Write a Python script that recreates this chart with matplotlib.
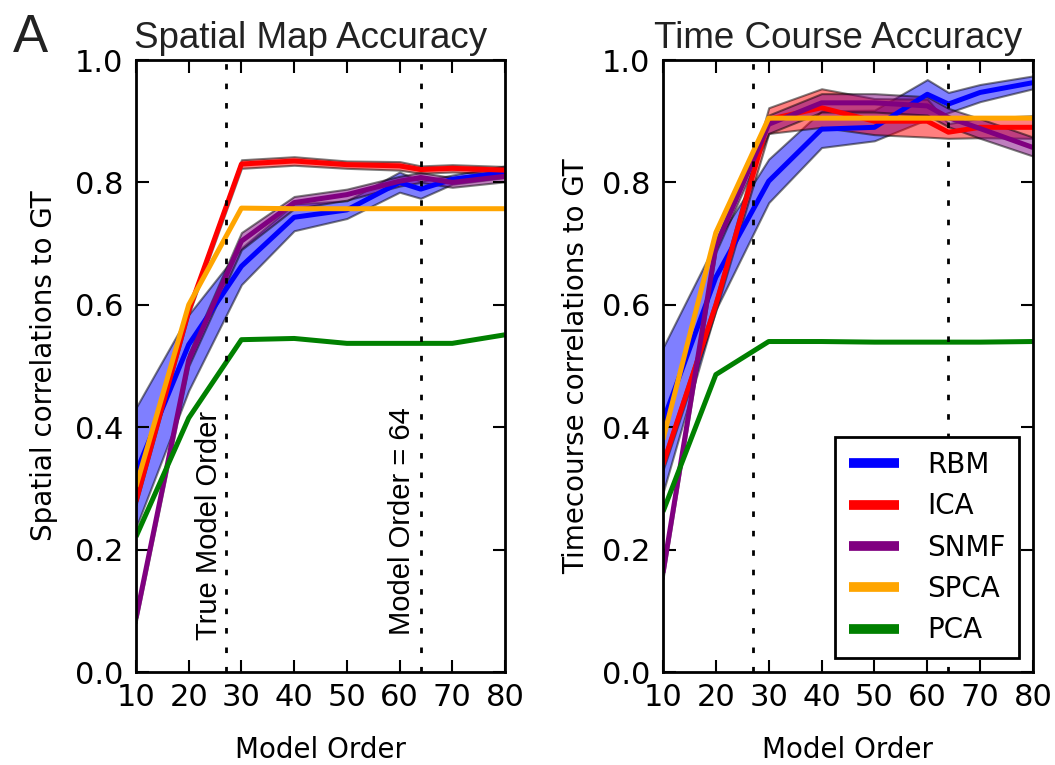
import matplotlib
matplotlib.use("Agg")
import matplotlib.pyplot as plt
import numpy as np

# ---- data ----
model_order = [10, 20, 30, 40, 50, 60, 64, 70, 80]
methods = ["RBM", "ICA", "SNMF", "SPCA", "PCA"]
colors = ["blue", "red", "purple", "orange", "green"]

# Spatial map accuracy (mean, low, high)
sp_rbm = [0.326, 0.535, 0.663, 0.743, 0.755, 0.800, 0.789, 0.805, 0.816]
sp_rbm_lo = [0.236, 0.460, 0.633, 0.721, 0.741, 0.784, 0.774, 0.797, 0.808]
sp_rbm_hi = [0.432, 0.584, 0.693, 0.765, 0.770, 0.817, 0.802, 0.812, 0.827]
sp_ica = [0.279, 0.590, 0.830, 0.835, 0.829, 0.827, 0.821, 0.823, 0.820]
sp_ica_lo = [0.273, 0.584, 0.823, 0.828, 0.823, 0.820, 0.815, 0.817, 0.814]
sp_ica_hi = [0.285, 0.596, 0.837, 0.842, 0.835, 0.834, 0.827, 0.829, 0.826]
sp_snmf = [0.088, 0.510, 0.704, 0.767, 0.780, 0.802, 0.808, 0.800, 0.810]
sp_snmf_lo = [0.080, 0.500, 0.690, 0.757, 0.771, 0.794, 0.800, 0.792, 0.801]
sp_snmf_hi = [0.096, 0.520, 0.718, 0.777, 0.789, 0.810, 0.816, 0.808, 0.819]
sp_spca = [0.303, 0.600, 0.758, 0.757, 0.757, 0.757, 0.757, 0.757, 0.757]
sp_pca = [0.221, 0.415, 0.543, 0.545, 0.537, 0.537, 0.537, 0.537, 0.551]

# Time course accuracy (mean, low, high)
tc_rbm = [0.410, 0.645, 0.802, 0.887, 0.890, 0.944, 0.928, 0.947, 0.963]
tc_rbm_lo = [0.293, 0.592, 0.767, 0.857, 0.868, 0.903, 0.914, 0.932, 0.953]
tc_rbm_hi = [0.530, 0.702, 0.838, 0.917, 0.918, 0.968, 0.947, 0.960, 0.974]
tc_ica = [0.339, 0.600, 0.903, 0.922, 0.900, 0.900, 0.882, 0.890, 0.890]
tc_ica_lo = [0.330, 0.590, 0.880, 0.890, 0.878, 0.874, 0.872, 0.873, 0.872]
tc_ica_hi = [0.348, 0.610, 0.922, 0.953, 0.937, 0.936, 0.896, 0.905, 0.909]
tc_snmf = [0.162, 0.696, 0.895, 0.930, 0.930, 0.925, 0.906, 0.888, 0.857]
tc_snmf_lo = [0.152, 0.686, 0.880, 0.915, 0.915, 0.910, 0.891, 0.872, 0.843]
tc_snmf_hi = [0.172, 0.706, 0.910, 0.945, 0.945, 0.940, 0.921, 0.904, 0.874]
tc_spca = [0.380, 0.718, 0.905, 0.905, 0.905, 0.905, 0.905, 0.905, 0.905]
tc_pca = [0.262, 0.486, 0.540, 0.540, 0.539, 0.539, 0.539, 0.539, 0.540]

true_order = 27
chosen_order = 64

xticks = [10, 20, 30, 40, 50, 60, 70, 80]
yticks = [0.0, 0.2, 0.4, 0.6, 0.8, 1.0]

fig = plt.figure(figsize=(10.55, 7.65), dpi=100)
ax1 = fig.add_axes([136 / 1055, 93 / 765, 369 / 1055, 612 / 765])
ax2 = fig.add_axes([663 / 1055, 93 / 765, 370 / 1055, 612 / 765])

panels = [
    (ax1,
     [(sp_rbm, sp_rbm_lo, sp_rbm_hi), (sp_ica, sp_ica_lo, sp_ica_hi),
      (sp_snmf, sp_snmf_lo, sp_snmf_hi), (sp_spca, None, None), (sp_pca, None, None)],
     "Spatial Map Accuracy", "Spatial correlations to GT"),
    (ax2,
     [(tc_rbm, tc_rbm_lo, tc_rbm_hi), (tc_ica, tc_ica_lo, tc_ica_hi),
      (tc_snmf, tc_snmf_lo, tc_snmf_hi), (tc_spca, None, None), (tc_pca, None, None)],
     "Time Course Accuracy", "Timecourse correlations to GT"),
]

for ax, series, title, ylabel in panels:
    for name, col, (m, lo, hi) in zip(methods, colors, series):
        if lo is not None:
            ax.fill_between(model_order, lo, hi, facecolor=col, edgecolor="black",
                            alpha=0.5, linewidth=1.5)
        ax.plot(model_order, m, color=col, lw=3.6, label=name, solid_capstyle="butt")
    for xv in (true_order, chosen_order):
        ax.axvline(xv, color="black", lw=2, linestyle=(0, (2.0, 5.0)))
    ax.set_xlim(10, 80)
    ax.set_ylim(0, 1)
    ax.set_xticks(xticks)
    ax.set_yticks(yticks)
    ax.set_yticklabels([f"{v:.1f}" for v in yticks])
    ax.tick_params(direction="in", length=9, width=1.5, top=True, right=True,
                   labelsize=22)
    ax.tick_params(axis="x", pad=8)
    ax.tick_params(axis="y", pad=9)
    for sp in ax.spines.values():
        sp.set_linewidth(2)
    ax.set_title(title, fontsize=26.5, family="Liberation Sans", color="#222222",
                 x=0.473, pad=9)
    ax.set_xlabel("Model Order", fontsize=20)
    ax.set_ylabel(ylabel, fontsize=20)
    ax.xaxis.set_label_coords(0.5, -0.105)

ax1.yaxis.set_label_coords(-0.212, 0.5)
ax2.yaxis.set_label_coords(-0.197, 0.5)

ax1.text(26.5, 0.052, "True Model Order", rotation=90, ha="right", va="bottom",
         fontsize=21, family="Liberation Sans")
ax1.text(63.2, 0.06, "Model Order = 64", rotation=90, ha="right", va="bottom",
         fontsize=21, family="Liberation Sans")

leg = ax2.legend(loc="lower right", fontsize=20, fancybox=False, framealpha=1,
                 edgecolor="black", handlelength=1.8, handletextpad=1.0,
                 labelspacing=0.48, borderpad=0.5, borderaxespad=0.5)
leg.get_frame().set_linewidth(2)
for h in leg.get_lines():
    h.set_linewidth(7)

fig.text(0.012, 1 - 52 / 765, "A", fontsize=38, family="Liberation Sans",
         va="baseline", ha="left", color="#222222")

fig.savefig("out.png", dpi=100)
